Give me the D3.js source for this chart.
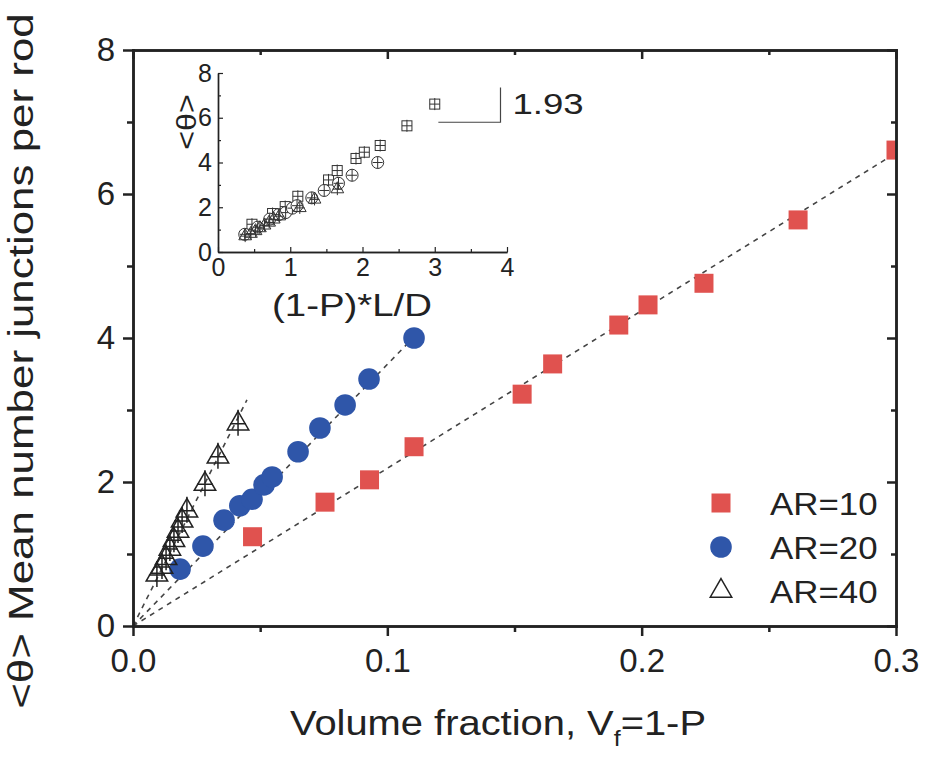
<!DOCTYPE html>
<html>
<head>
<meta charset="utf-8">
<script src="https://cdn.jsdelivr.net/npm/d3@7"></script>
<style>
  body { margin: 0; background: #fff; }
  svg { display: block; font-family: Arial, "Liberation Sans", sans-serif; }
  text { fill: #222; }
</style>
</head>
<body>
<svg id="chart"></svg>
<script>
// volume fraction and mean junctions per rod
const vf10 = [0.047, 0.0755, 0.093, 0.1105, 0.153, 0.165, 0.191, 0.2025, 0.2245, 0.2615, 0.300];
const theta10 = [1.24, 1.72, 2.03, 2.49, 3.22, 3.64, 4.18, 4.46, 4.76, 5.64, 6.61];

const vf20 = [0.0185, 0.0275, 0.0358, 0.042, 0.0468, 0.0515, 0.0547, 0.0649, 0.0735, 0.0834, 0.0928, 0.1105];
const theta20 = [0.79, 1.11, 1.47, 1.67, 1.76, 1.96, 2.07, 2.42, 2.75, 3.07, 3.43, 4.0];

const vf40 = [0.0094, 0.0114, 0.013, 0.0145, 0.0161, 0.0177, 0.0193, 0.0212, 0.0283, 0.0334, 0.0413];
const theta40 = [0.71, 0.82, 0.94, 1.07, 1.19, 1.32, 1.46, 1.60, 1.97, 2.35, 2.81];

const aspectRatios = [10, 20, 40];
const seriesNames = ["AR=10", "AR=20", "AR=40"];

// end points of the dotted lines from the origin
const fitEndX = [0.3, 0.112, 0.0448];
const fitEndY = [6.57, 4.07, 3.14];

const xTicks = [0, 0.1, 0.2, 0.3];
const xMinor = [0.05, 0.15, 0.25];
const yTicks = [0, 2, 4, 6, 8];
const yMinor = [1, 3, 5, 7];

const insetXTicks = [0, 1, 2, 3, 4];
const insetXMinor = [0.5, 1.5, 2.5, 3.5];
const insetYTicks = [0, 2, 4, 6, 8];
const insetYMinor = [1, 3, 5, 7];

// slope marker in the inset (inset data units)
const slopeLabel = "1.93";
const slopeX = [3.05, 3.91];
const slopeY = [5.8, 7.35];

document.addEventListener("DOMContentLoaded", function() {
    const width = 925, height = 759;
    const svg = d3.select("#chart").attr("width", width).attr("height", height);

    const red = "#e0524f", blue = "#2f56a9", ink = "#222";

    // main plot frame
    const left = 133, right = 896, top = 50, bottom = 626;
    const x = d3.scaleLinear().domain([0, 0.3]).range([left, right]);
    const y = d3.scaleLinear().domain([0, 8]).range([bottom, top]);

    const series = [
        { name: seriesNames[0], ar: aspectRatios[0], data: vf10.map((v, i) => [v, theta10[i]]) },
        { name: seriesNames[1], ar: aspectRatios[1], data: vf20.map((v, i) => [v, theta20[i]]) },
        { name: seriesNames[2], ar: aspectRatios[2], data: vf40.map((v, i) => [v, theta40[i]]) }
    ];

    function stretchText(g, px, py, s, size, anchor, sx, rot) {
        return g.append("text")
            .attr("transform", `translate(${px},${py}) rotate(${rot || 0}) scale(${sx || 1},1)`)
            .attr("text-anchor", anchor || "start")
            .style("font-size", size + "px")
            .text(s);
    }

    function styleAxis(g, size) {
        g.attr("font-size", null).attr("font-family", null);
        g.select(".domain").attr("stroke", ink).attr("stroke-width", 2.5);
        g.selectAll(".tick line").attr("stroke", ink).attr("stroke-width", 2.5);
        g.selectAll(".tick text").style("font-size", size + "px").attr("fill", ink);
    }

    svg.append("defs").append("clipPath").attr("id", "plotClip")
        .append("rect").attr("x", left).attr("y", top)
        .attr("width", right - left).attr("height", bottom - top);

    // dotted fit lines
    const fitGroup = svg.append("g");
    fitEndX.forEach((fx, i) => {
        fitGroup.append("line")
            .attr("x1", x(0)).attr("y1", y(0))
            .attr("x2", x(fx)).attr("y2", y(fitEndY[i]))
            .attr("stroke", "#444").attr("stroke-width", 1.6)
            .attr("stroke-dasharray", "5,5");
    });

    // markers
    const marks = svg.append("g").attr("clip-path", "url(#plotClip)");

    marks.selectAll(".sq").data(series[0].data).enter().append("rect")
        .attr("class", "sq")
        .attr("x", d => x(d[0]) - 9.5).attr("y", d => y(d[1]) - 9.5)
        .attr("width", 19).attr("height", 19)
        .attr("fill", red);

    marks.selectAll(".ci").data(series[1].data).enter().append("circle")
        .attr("class", "ci")
        .attr("cx", d => x(d[0])).attr("cy", d => y(d[1]))
        .attr("r", 10.8).attr("fill", blue);

    const tri = d3.symbol().type(d3.symbolTriangle).size(200);
    const triG = marks.selectAll(".tr").data(series[2].data).enter().append("g")
        .attr("class", "tr")
        .attr("transform", d => `translate(${x(d[0])},${y(d[1])})`);
    triG.append("path").attr("d", tri).attr("fill", "none")
        .attr("stroke", ink).attr("stroke-width", 1.5);
    triG.append("path").attr("d", "M0,-14V12M-8,0H8")
        .attr("stroke", ink).attr("stroke-width", 1.5);

    // axes: left and bottom outward, top and right inward
    const gl = svg.append("g").attr("transform", `translate(${left},0)`)
        .call(d3.axisLeft(y).tickValues(yTicks).tickSize(10).tickSizeOuter(0).tickPadding(8).tickFormat(d3.format("d")));
    styleAxis(gl, 33);
    const glm = svg.append("g").attr("transform", `translate(${left},0)`)
        .call(d3.axisLeft(y).tickValues(yMinor).tickSize(6).tickSizeOuter(0).tickFormat(""));
    styleAxis(glm, 33);

    const gb = svg.append("g").attr("transform", `translate(0,${bottom})`)
        .call(d3.axisBottom(x).tickValues(xTicks).tickSize(10).tickSizeOuter(0).tickPadding(13).tickFormat(d3.format(".1f")));
    styleAxis(gb, 33);
    const gbm = svg.append("g").attr("transform", `translate(0,${bottom})`)
        .call(d3.axisBottom(x).tickValues(xMinor).tickSize(6).tickSizeOuter(0).tickFormat(""));
    styleAxis(gbm, 33);

    const gt = svg.append("g").attr("transform", `translate(0,${top})`)
        .call(d3.axisTop(x).tickValues(xTicks).tickSize(-9).tickSizeOuter(0).tickFormat(""));
    styleAxis(gt, 33);
    const gtm = svg.append("g").attr("transform", `translate(0,${top})`)
        .call(d3.axisTop(x).tickValues(xMinor).tickSize(-5).tickSizeOuter(0).tickFormat(""));
    styleAxis(gtm, 33);

    const gr = svg.append("g").attr("transform", `translate(${right},0)`)
        .call(d3.axisRight(y).tickValues(yTicks).tickSize(-9).tickSizeOuter(0).tickFormat(""));
    styleAxis(gr, 33);
    const grm = svg.append("g").attr("transform", `translate(${right},0)`)
        .call(d3.axisRight(y).tickValues(yMinor).tickSize(-5).tickSizeOuter(0).tickFormat(""));
    styleAxis(grm, 33);
    svg.selectAll(".domain").attr("stroke-linecap", "square");

    // axis titles
    const xt = svg.append("text")
        .attr("transform", `translate(498,735) scale(1.14,1)`)
        .attr("text-anchor", "middle")
        .style("font-size", "35px");
    xt.append("tspan").text("Volume fraction, V");
    xt.append("tspan").attr("dy", 11).style("font-size", "22px").text("f");
    xt.append("tspan").attr("dy", -11).text("=1-P");

    stretchText(svg, 33, 361, "<θ> Mean number junctions per rod", 36, "middle", 1.22, -90);

    // legend
    const legendY = [503, 547, 591];
    const lg = svg.append("g");
    lg.append("rect").attr("x", 721 - 9.5).attr("y", legendY[0] - 9.5)
        .attr("width", 19).attr("height", 19).attr("fill", red);
    lg.append("circle").attr("cx", 721).attr("cy", legendY[1]).attr("r", 10.8).attr("fill", blue);
    lg.append("path").attr("d", tri).attr("transform", `translate(721,${legendY[2]})`)
        .attr("fill", "none").attr("stroke", ink).attr("stroke-width", 1.5);
    seriesNames.forEach((s, i) => stretchText(lg, 770, legendY[i] + 12, s, 32, "start", 1.09));

    // inset
    const ix = d3.scaleLinear().domain([0, 4]).range([218, 507]);
    const iy = d3.scaleLinear().domain([0, 8]).range([252, 73]);
    const inset = svg.append("g");

    function styleInset(g) {
        g.attr("font-size", null).attr("font-family", null);
        g.select(".domain").attr("stroke", ink).attr("stroke-width", 1.4);
        g.selectAll(".tick line").attr("stroke", ink).attr("stroke-width", 1.2);
        g.selectAll(".tick text").style("font-size", "25px").attr("fill", ink);
    }
    const ib = inset.append("g").attr("transform", "translate(0,252)")
        .call(d3.axisBottom(ix).tickValues(insetXTicks).tickSize(-5).tickSizeOuter(0).tickPadding(6).tickFormat(d3.format("d")));
    styleInset(ib);
    const ibm = inset.append("g").attr("transform", "translate(0,252)")
        .call(d3.axisBottom(ix).tickValues(insetXMinor).tickSize(-3).tickSizeOuter(0).tickFormat(""));
    styleInset(ibm);
    const il = inset.append("g").attr("transform", "translate(218,0)")
        .call(d3.axisLeft(iy).tickValues(insetYTicks).tickSize(-5).tickSizeOuter(0).tickPadding(6).tickFormat(d3.format("d")));
    styleInset(il);
    const ilm = inset.append("g").attr("transform", "translate(218,0)")
        .call(d3.axisLeft(iy).tickValues(insetYMinor).tickSize(-3).tickSizeOuter(0).tickFormat(""));
    styleInset(ilm);

    const cross = "M0,-6V6M-5,0H5";
    const insetTri = d3.symbol().type(d3.symbolTriangle).size(70);

    series.forEach((s, k) => {
        const pts = inset.selectAll(".in" + k).data(s.data).enter().append("g")
            .attr("class", "in" + k)
            .attr("transform", d => `translate(${ix(d[0] * s.ar)},${iy(d[1])})`);
        if (k === 0) {
            pts.append("rect").attr("x", -5).attr("y", -5).attr("width", 10).attr("height", 10)
                .attr("fill", "#fff").attr("stroke", "#333").attr("stroke-width", 1);
        } else if (k === 1) {
            pts.append("circle").attr("r", 6).attr("fill", "#fff")
                .attr("stroke", "#333").attr("stroke-width", 1);
        } else {
            pts.append("path").attr("d", insetTri).attr("fill", "none")
                .attr("stroke", "#333").attr("stroke-width", 1);
        }
        pts.append("path").attr("d", cross).attr("stroke", "#333").attr("stroke-width", 1);
    });

    // slope marker
    inset.append("path")
        .attr("d", `M${ix(slopeX[0])},${iy(slopeY[0])}H${ix(slopeX[1])}V${iy(slopeY[1])}`)
        .attr("fill", "none").attr("stroke", "#444").attr("stroke-width", 1.2);
    stretchText(inset, ix(slopeX[1]) + 12, 114, slopeLabel, 30, "start", 1.22);

    // inset titles
    stretchText(inset, 352, 316, "(1-P)*L/D", 32, "middle", 1.2);
    stretchText(inset, 196, 122, "<θ>", 28, "middle", 1.15, -90);
});
</script>
</body>
</html>
